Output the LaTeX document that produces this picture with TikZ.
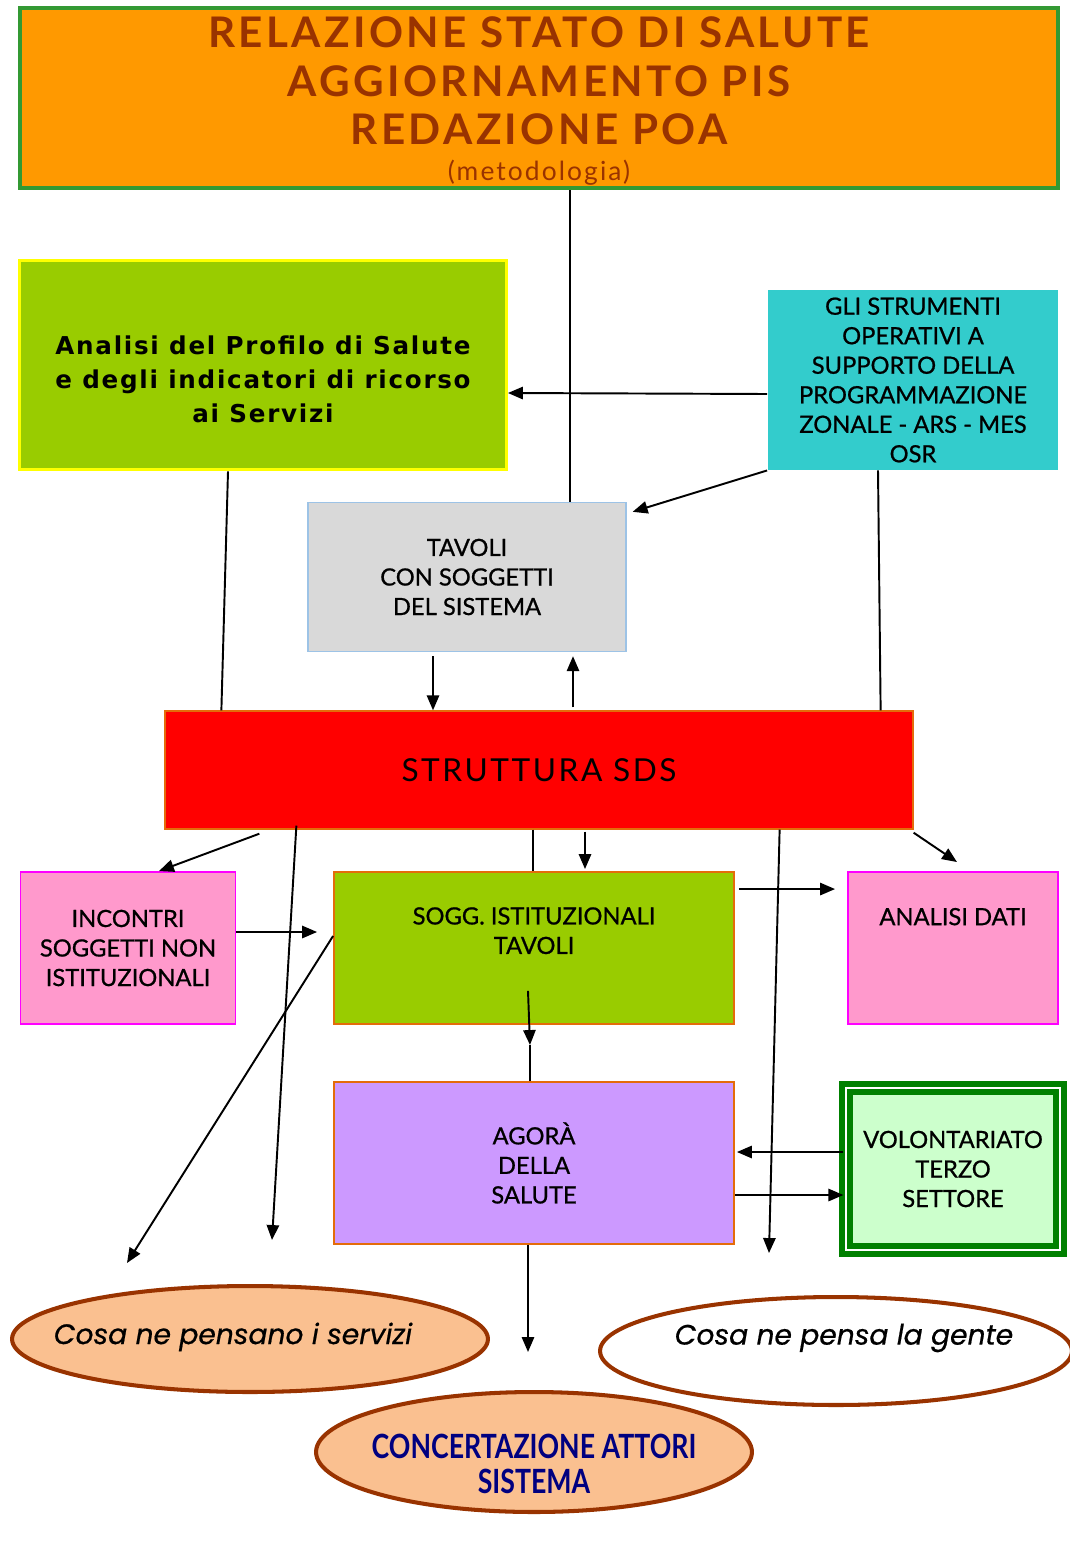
\documentclass[tikz,border=0pt]{standalone}
\usepackage{fontspec}
\setmainfont{Lato}[FakeBold=0.8]
\newfontfamily\boxfont[FakeBold=0.8]{Lato}
\newfontfamily\spacedfont[LetterSpace=8]{Lato}
\newfontfamily\widefont[LetterSpace=7]{DejaVu Sans}
\newfontfamily\narrowfont[FakeStretch=0.8]{Lato}
\newfontfamily\roundfont[FakeBold=0.6]{Poppins}
\usetikzlibrary{arrows.meta, calc, shapes.geometric}
\definecolor{cTitle}{HTML}{FF9900}
\definecolor{cFrame}{HTML}{339933}
\definecolor{cBrown}{HTML}{993300}
\definecolor{cLime}{HTML}{99CC00}
\definecolor{cYellow}{HTML}{FFFF00}
\definecolor{cTeal}{HTML}{33CCCC}
\definecolor{cGrey}{HTML}{D9D9D9}
\definecolor{cSky}{HTML}{9DC3E6}
\definecolor{cRed}{HTML}{FF0000}
\definecolor{cPink}{HTML}{FF99CC}
\definecolor{cMagenta}{HTML}{FF00FF}
\definecolor{cEdge}{HTML}{E46C0A}
\definecolor{cLilac}{HTML}{CC99FF}
\definecolor{cGreen}{HTML}{008000}
\definecolor{cMint}{HTML}{CCFFCC}
\definecolor{cPeach}{HTML}{FAC090}
\definecolor{cNavy}{HTML}{000080}
\tikzset{
    box/.style   ={draw, line width=1.1pt, align=center, inner sep=4pt,
                   font=\boxfont\fontsize{13.5}{16.8}\selectfont},
    pinkbox/.style={box, draw=cMagenta, fill=cPink,
                   minimum width=4.3cm, minimum height=3.04cm},
    limebox/.style={box, draw=cEdge, fill=cLime,
                   minimum width=8.0cm, minimum height=3.04cm},
    oval/.style  ={ellipse, draw=cBrown, line width=2.3pt, fill=cPeach,
                   inner sep=0pt},
    txt/.style   ={align=center, inner sep=0pt},
    ovaltxt/.style={txt, font=\roundfont\itshape\fontsize{16}{19}\selectfont},
    link/.style  ={line width=1.1pt, black},
    arr/.style   ={link, -{Triangle[length=8.5pt, width=7pt]}},
}

\begin{document}
\begin{tikzpicture}[x=0.02cm, y=-0.02cm]
\useasboundingbox (0,0) rectangle (1070,1544);

% ===================== Titolo =====================
\node[box, draw=cFrame, line width=2.3pt, fill=cTitle,
      minimum width=20.76cm, minimum height=3.6cm] (titolo) at (539,98) {};
\node[txt, text=cBrown, font=\spacedfont\bfseries\fontsize{24}{27.4}\selectfont]
     (titoloT) at (539,101)
     {RELAZIONE STATO DI SALUTE\\AGGIORNAMENTO PIS\\REDAZIONE POA\\[-7pt]
      {\mdseries\fontsize{15}{17}\selectfont (metodologia)}};

% ===================== Profilo e strumenti =====================
\node[box, draw=cYellow, line width=1.7pt, fill=cLime,
      minimum width=9.74cm, minimum height=4.2cm] (analisi) at (263,365) {};
\node[txt, font=\widefont\bfseries\fontsize{14}{19.3}\selectfont] (analisiT) at (263,379)
     {Analisi del Profilo di Salute\\e degli indicatori di ricorso\\ai Servizi};
\node[box, draw=none, fill=cTeal, minimum width=5.8cm, minimum height=3.58cm]
     (strum) at (913,380)
     {GLI STRUMENTI\\OPERATIVI A\\SUPPORTO DELLA\\PROGRAMMAZIONE\\ZONALE - ARS - MES\\OSR};
\node[box, draw=cSky, line width=0.8pt, fill=cGrey, minimum width=6.36cm,
      minimum height=2.98cm] (tavoli) at (467,577)
     {TAVOLI\\CON SOGGETTI\\DEL SISTEMA};

% ===================== Struttura SDS =====================
\node[box, draw=cEdge, line width=0.8pt, fill=cRed, minimum width=14.96cm,
      minimum height=2.36cm, font=\spacedfont\fontsize{18}{20}\selectfont]
     (sds) at (539,770) {STRUTTURA SDS};

% ===================== Riga centrale =====================
\node[pinkbox] (incontri) at (128,948) {INCONTRI\\SOGGETTI NON\\ISTITUZIONALI};
\node[limebox] (sogg) at (534,948) {SOGG. ISTITUZIONALI\\TAVOLI\\[3pt]\mbox{}};
\node[pinkbox, minimum width=4.2cm] (adati) at (953,948) {ANALISI DATI\\[19pt]\mbox{}};

% ===================== Agora e volontariato =====================
\node[box, draw=cEdge, fill=cLilac, minimum width=8.0cm, minimum height=3.24cm]
     (agora) at (534,1163) {AGORÀ\\DELLA\\SALUTE};
\node[box, draw=cGreen, line width=3pt, double=white, double distance=1.6pt,
      fill=cMint, minimum width=4.28cm, minimum height=3.24cm]
     (volont) at (953,1169) {VOLONTARIATO\\TERZO\\SETTORE};

% ===================== Ovali in basso =====================
\node[oval, minimum width=9.52cm, minimum height=2.12cm] (servizi) at (250,1339) {};
\node[ovaltxt] (serviziT) at (233,1337) {Cosa ne pensano i servizi};
\node[oval, fill=white, minimum width=9.44cm, minimum height=2.16cm] (gente) at (836,1351) {};
\node[ovaltxt] (genteT) at (844,1338) {Cosa ne pensa la gente};
\node[oval, minimum width=8.72cm, minimum height=2.4cm] (concert) at (534,1452) {};
\node[txt, text=cNavy, font=\narrowfont\bfseries\fontsize{19}{19.5}\selectfont]
     (concertT) at (534,1464) {CONCERTAZIONE ATTORI\\SISTEMA};

% ===================== Estremi liberi =====================
\coordinate (endA) at (272,1240);
\coordinate (endB) at (769,1253);
\coordinate (endC) at (127,1263);
\coordinate (midD) at (530,1045);
\coordinate (endE) at (528,1352);

% ===================== Collegamenti in alto =====================
\draw[link] ($(tavoli.north)+(103,0)$) -- ($(titolo.south)+(31,0)$);
\draw[arr]  ($(strum.west)+(0,14)$) -- ($(analisi.east)+(0,28)$);
\draw[arr]  (strum.south west) -- ($(tavoli.north east)+(6,10)$);
\draw[link] ($(analisi.south)+(-35,0)$) -- ($(sds.north west)+(57,0)$);
\draw[link] ($(strum.south)+(-35,0)$) -- ($(sds.north east)+(-33,0)$);
\draw[arr]  ($(tavoli.south)+(-34,4)$) -- ($(tavoli.south |- sds.north)+(-34,0)$);
\draw[arr]  ($(sds.north)+(34,-3)$) -- ($(tavoli.south)+(106,4)$);

% ===================== Collegamenti dalla SDS =====================
\draw[arr]  ($(sds.south west)+(95,4)$) -- ($(incontri.north)+(31,0)$);
\draw[arr]  ($(sds.south west)+(132,-4)$) -- (endA);
\draw[link] ($(sds.south)+(-6,0)$) -- ($(sogg.north)+(-1,0)$);
\draw[arr]  ($(sds.south)+(46,2)$) -- ($(sogg.north)+(51,-2)$);
\draw[arr]  ($(sds.south east)+(-134,0)$) -- (endB);
\draw[arr]  ($(sds.south east)+(0,3)$) -- ($(adati.north)+(4,-9)$);

% ===================== Collegamenti riga centrale =====================
\draw[arr]  ($(incontri.east)+(0,-16)$) -- ($(sogg.west)+(-16,-16)$);
\draw[arr]  ($(sogg.west)+(0,-12)$) -- (endC);
\draw[arr]  ($(sogg.north east)+(4,18)$) -- ($(adati.north west)+(-12,18)$);
\draw[arr]  ($(sogg.south)+(-6,-34)$) -- (midD);
\draw[link] (midD) -- ($(agora.north)+(-4,0)$);

% ===================== Agora =====================
\draw[arr]  ($(volont.west)+(0,-17)$) -- ($(agora.east)+(2,-11)$);
\draw[arr]  ($(agora.east)+(0,32)$) -- ($(volont.west)+(0,26)$);
\draw[arr]  ($(agora.south)+(-6,0)$) -- (endE);

\end{tikzpicture}
\end{document}
